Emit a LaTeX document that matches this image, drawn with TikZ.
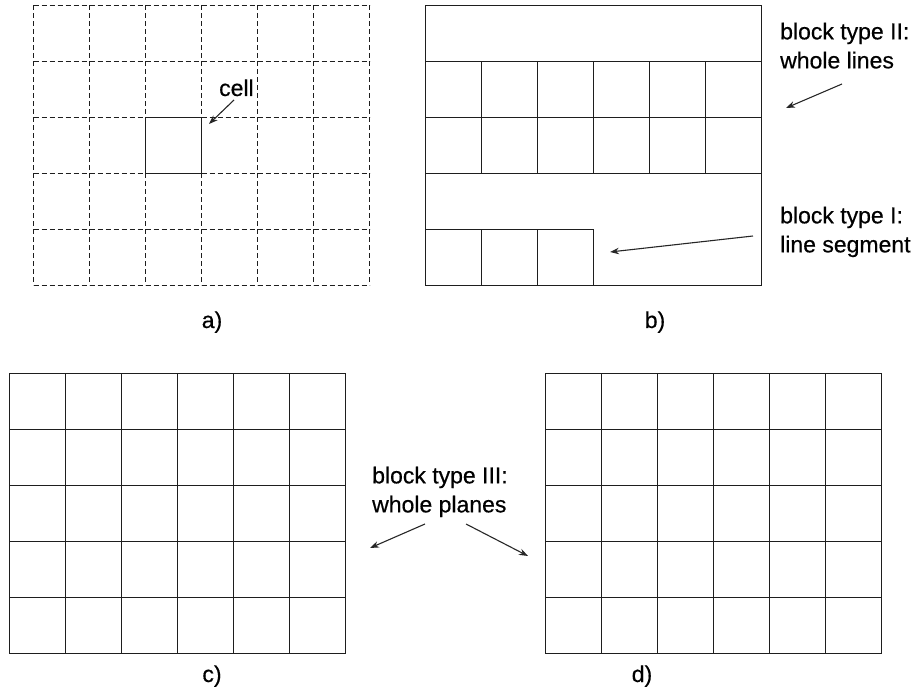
\documentclass[tikz,border=0pt]{standalone}
\usepackage{fontspec}
\setmainfont{Liberation Sans}
\newfontfamily\labfont{Liberation Sans}[FakeBold=0.5]
\usepackage{tikz}
\usetikzlibrary{arrows.meta}
\definecolor{cLine}{HTML}{1E1E1E}
\definecolor{cArrow}{HTML}{262626}
\def\cw{56}
\def\ch{56}
\tikzset{
  gridln/.style={draw=cLine,line width=1.4pt},
  griddash/.style={gridln,line width=1.2pt,dash pattern=on 5pt off 3pt},
  lab/.style={font=\labfont\fontsize{23}{29}\selectfont,inner sep=0pt,align=left,text=black},
  pointer/.style={-{Stealth[length=9pt,width=6.5pt]},draw=cArrow,line width=1.1pt},
}
\newcommand{\cellgrid}[3]{%
  \foreach \i in {0,...,6} \draw[#3] (#1+\i*\cw,#2) -- (#1+\i*\cw,#2+5*\ch);
  \foreach \j in {0,...,5} \draw[#3] (#1,#2+\j*\ch) -- (#1+6*\cw,#2+\j*\ch);}
\begin{document}
\begin{tikzpicture}[x=1pt,y=-1pt]
  \useasboundingbox (0,0) rectangle (918,692);

  % a) cells
  \cellgrid{33.5}{5.5}{griddash}
  \draw[gridln] (33.5+2*\cw,5.5+2*\ch) rectangle (33.5+3*\cw,5.5+3*\ch);
  \node[lab,anchor=base west] (cellLab) at (219,96) {cell};
  \coordinate (cellA) at (234,100);
  \coordinate (cellB) at (209,124);
  \draw[pointer] (cellA) -- (cellB);

  % b) block types I and II
  \draw[gridln] (425.5,5.5) rectangle (425.5+6*\cw,285.5);
  \foreach \j in {61.5,117.5,173.5} \draw[gridln] (425.5,\j) -- (425.5+6*\cw,\j);
  \foreach \i in {1,...,5} \draw[gridln] (425.5+\i*\cw,61.5) -- (425.5+\i*\cw,173.5);
  \draw[gridln] (425.5,229.5) -- (425.5+3*\cw,229.5) -- (425.5+3*\cw,285.5);
  \foreach \i in {1,2} \draw[gridln] (425.5+\i*\cw,229.5) -- (425.5+\i*\cw,285.5);
  \node[lab,anchor=north west] (typeII) at (780,22.5) {block type II:\\whole lines};
  \node[lab,anchor=north west] (typeI) at (780,206.5) {block type I:\\line segment};
  \coordinate (twoA) at (842,84);
  \coordinate (twoB) at (786,108);
  \coordinate (oneA) at (753,236);
  \coordinate (oneB) at (610,252);
  \draw[pointer] (twoA) -- (twoB);
  \draw[pointer] (oneA) -- (oneB);

  % c) and d) whole planes
  \cellgrid{9.5}{373.5}{gridln}
  \cellgrid{545.5}{373.5}{gridln}
  \node[lab,anchor=north west] (typeIII) at (372,466.5) {block type III:\\whole planes};
  \coordinate (thrA) at (425,524);
  \coordinate (thrB) at (370,548);
  \coordinate (thrC) at (466,524);
  \coordinate (thrD) at (528,556);
  \draw[pointer] (thrA) -- (thrB);
  \draw[pointer] (thrC) -- (thrD);

  % captions
  \node[lab,anchor=base] (capA) at (212,328) {a)};
  \node[lab,anchor=base] (capB) at (655,328) {b)};
  \node[lab,anchor=base] (capC) at (212,682) {c)};
  \node[lab,anchor=base] (capD) at (642,682) {d)};
\end{tikzpicture}
\end{document}
